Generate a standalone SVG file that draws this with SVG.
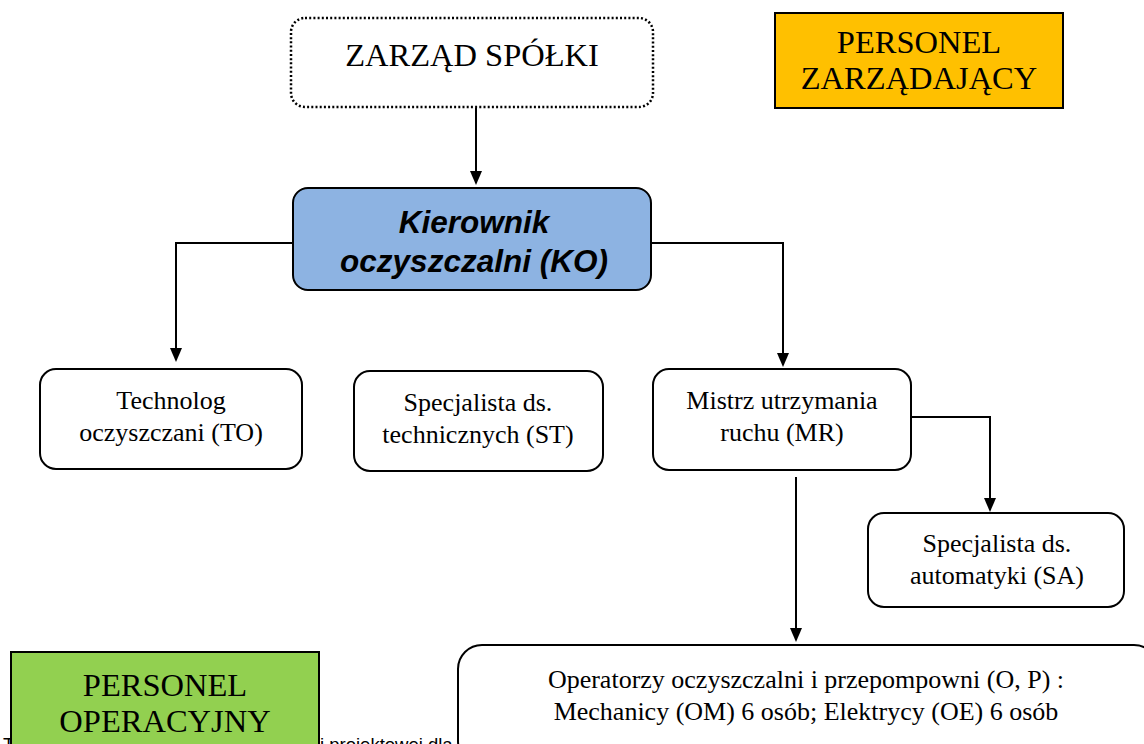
<svg xmlns="http://www.w3.org/2000/svg" width="1144" height="744" viewBox="0 0 1144 744">
<style>
.box{fill:#fff;stroke:#000;stroke-width:2}
.t{font-family:"Liberation Serif","Times New Roman",serif;fill:#000;text-anchor:middle}
.s{font-size:26px}
.big{font-size:32.5px}
.conn{fill:none;stroke:#000;stroke-width:2}
.ah{fill:#000}
.k{font-family:"Liberation Sans",Arial,sans-serif;font-size:31.5px;font-weight:bold;font-style:italic;text-anchor:middle}
.bg{font-family:"Liberation Sans",Arial,sans-serif;font-size:18.5px;fill:#000}
</style>
<rect width="1144" height="744" fill="#fff"/>
<g id="background-text">
<text class="bg" x="3" y="751">T</text>
<text class="bg" x="320" y="751">i projektowej dla</text>
</g>
<g id="connectors">
<path class="conn" d="M476,108 V171"/>
<path class="ah" d="M470,171 L482,171 L476,185 Z"/>
<path class="conn" d="M293,243 H176 V348"/>
<path class="ah" d="M170,348 L182,348 L176,362 Z"/>
<path class="conn" d="M651,243 H783 V353"/>
<path class="ah" d="M777,353 L789,353 L783,367 Z"/>
<path class="conn" d="M911,417 H990 V498"/>
<path class="ah" d="M984,498 L996,498 L990,512 Z"/>
<path class="conn" d="M796,477 V628"/>
<path class="ah" d="M790,628 L802,628 L796,642 Z"/>
</g>
<g id="zarzad">
<rect x="291" y="18" width="362" height="89" rx="14" fill="#fff" stroke="#000" stroke-width="2.5" stroke-dasharray="2,2.2"/>
<text class="t big" x="472" y="66">ZARZĄD SPÓŁKI</text>
</g>
<g id="personel-zarzadajacy">
<rect x="775" y="13" width="288" height="95" fill="#FFC000" stroke="#000" stroke-width="2"/>
<text class="t big" x="919" y="53">PERSONEL</text>
<text class="t big" x="919" y="89">ZARZĄDAJĄCY</text>
</g>
<g id="kierownik">
<rect x="293" y="188" width="358" height="102" rx="15" fill="#8DB3E2" stroke="#000" stroke-width="2"/>
<text class="k" x="474" y="233">Kierownik</text>
<text class="k" x="474" y="272">oczyszczalni (KO)</text>
</g>
<g id="technolog">
<rect class="box" x="40" y="369" width="262" height="100" rx="16"/>
<text class="t s" x="171" y="409">Technolog</text>
<text class="t s" x="171" y="441">oczyszczani (TO)</text>
</g>
<g id="specjalista-st">
<rect class="box" x="354" y="371" width="249" height="100" rx="16"/>
<text class="t s" x="478" y="411">Specjalista ds.</text>
<text class="t s" x="478" y="443">technicznych (ST)</text>
</g>
<g id="mistrz">
<rect class="box" x="653" y="369" width="258" height="101" rx="16"/>
<text class="t s" x="782" y="409">Mistrz utrzymania</text>
<text class="t s" x="782" y="441">ruchu (MR)</text>
</g>
<g id="specjalista-sa">
<rect class="box" x="868" y="513" width="256" height="94" rx="16"/>
<text class="t s" x="997" y="552">Specjalista ds.</text>
<text class="t s" x="997" y="584">automatyki (SA)</text>
</g>
<g id="operatorzy">
<rect class="box" x="458" y="645" width="700" height="120" rx="24"/>
<text class="t" font-size="26" x="806" y="688">Operatorzy oczyszczalni i przepompowni (O, P) :</text>
<text class="t" font-size="26" x="806" y="720">Mechanicy (OM) 6 osób; Elektrycy (OE) 6 osób</text>
</g>
<g id="personel-operacyjny">
<rect x="11" y="652" width="308" height="98" fill="#92D050" stroke="#000" stroke-width="2"/>
<text class="t big" x="165" y="696">PERSONEL</text>
<text class="t big" x="165" y="732">OPERACYJNY</text>
</g>
</svg>
